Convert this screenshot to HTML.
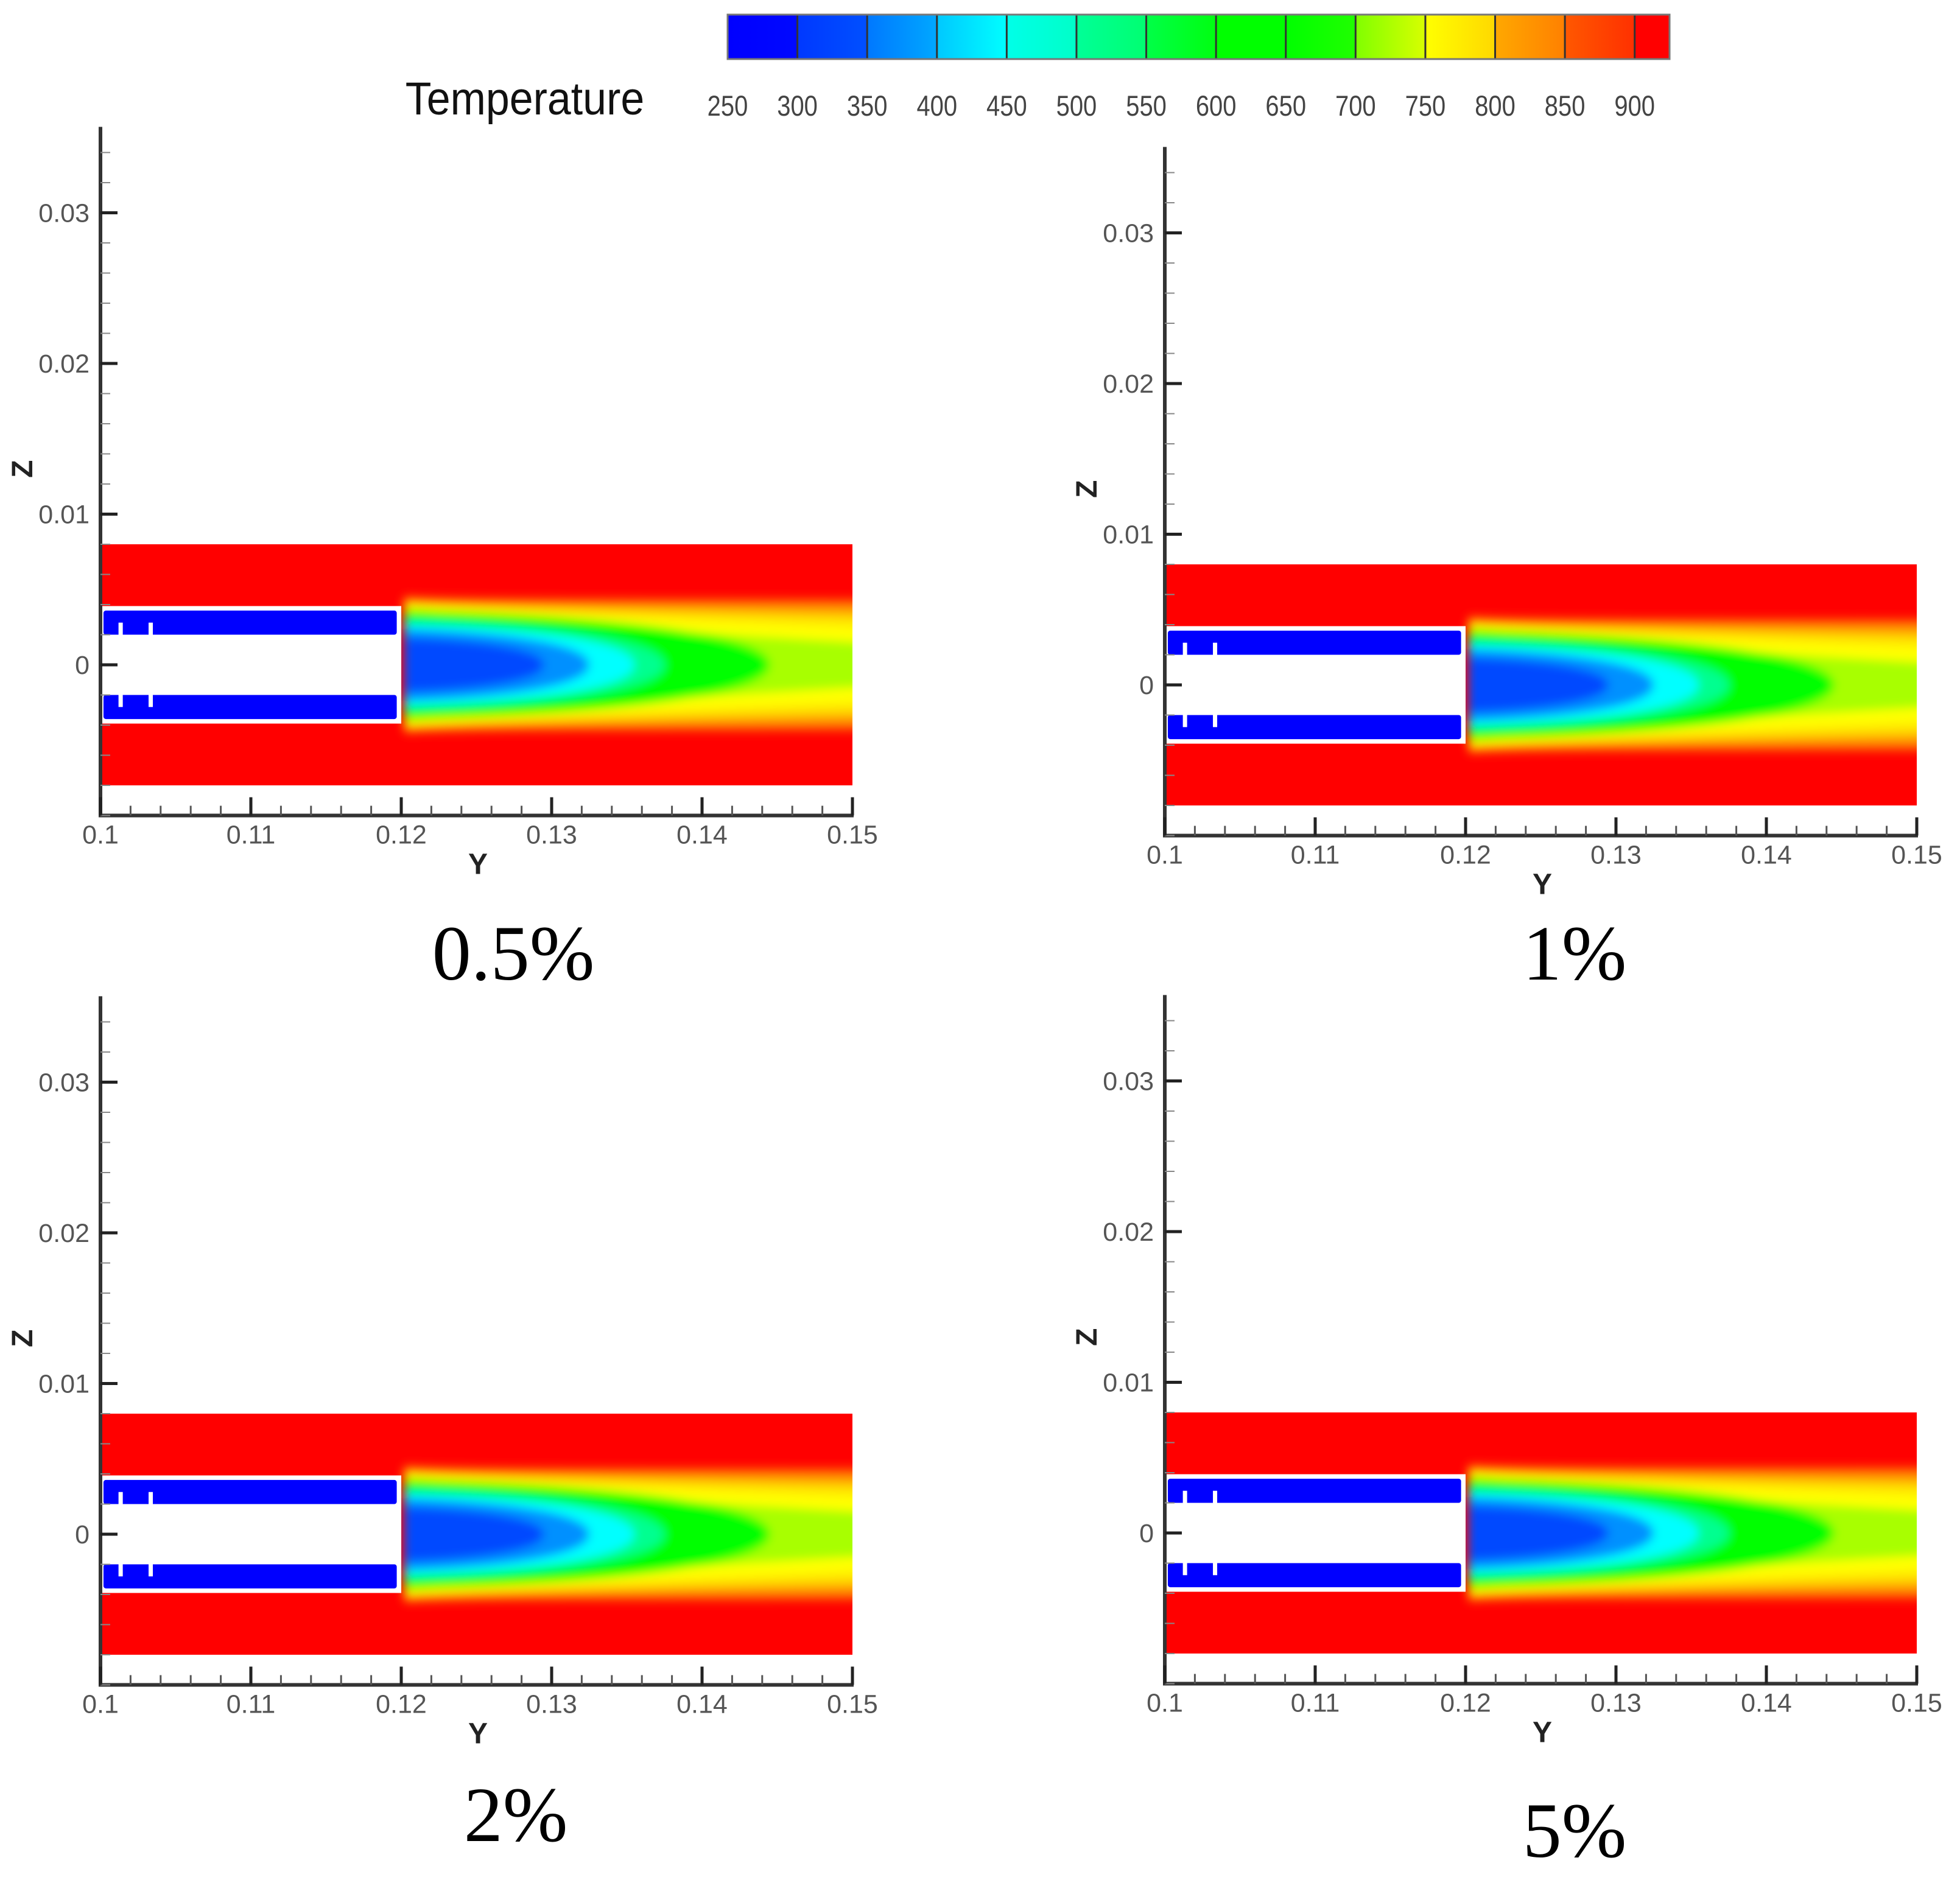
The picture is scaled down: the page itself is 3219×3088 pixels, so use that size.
<!DOCTYPE html>
<html><head><meta charset="utf-8"><style>
html,body{margin:0;padding:0;background:#fff;}
svg{display:block;}
</style></head><body>
<svg id="root" width="3219" height="3088" viewBox="0 0 3219 3088" xmlns="http://www.w3.org/2000/svg">
<defs>
<filter id="blur" x="-5%" y="-20%" width="110%" height="140%"><feGaussianBlur stdDeviation="8"/></filter>
</defs>
<g id="colorbar"></g>
<g id="panels"></g>
</svg>
<script>
const NS='http://www.w3.org/2000/svg';
// colorbar data
const cbLevels=[250,300,350,400,450,500,550,600,650,700,750,800,850,900];
const cbMax=925;
const cbColorsA=['#0000ff','#0038ff','#0078ff','#00c8ff','#00ffe8','#00ff98','#00ff48','#00ff00','#00ff00','#80ff00','#ffff00','#ffa800','#ff5800','#ff0000'];
const cbColorsB=['#0008ff','#0050ff','#00a8ff','#00ffff','#00ffc8','#00ff70','#00ff10','#00ff00','#20ff00','#d8ff00','#ffd800','#ff8000','#ff3000','#ff0000'];
// panel data
const panelLabels=['0.5%','1%','2%','5%'];
const yTicks=[0.1,0.11,0.12,0.13,0.14,0.15];
const zTicks=[0,0.01,0.02,0.03];
// contour layers
const layerColors=['#ff5000','#ff9800','#ffe000','#ffff00','#a8ff00','#00ff00','#00ff90','#00ffff','#0090ff','#0048ff'];
const layerHalfStart=[0.0046,0.0043,0.0041,0.0039,0.0037,0.0036,0.0029,0.0027,0.0024,0.0018];
const layerHalfEnd=[0.0044,0.0039,0.0032,0.0024,0.0012,0,0,0,0,0];
const layerTip=[0.16,0.16,0.16,0.16,0.16,0.1445,0.1375,0.1355,0.1325,0.1295];

function el(tag,attrs,parent){const e=document.createElementNS(NS,tag);for(const k in attrs)e.setAttribute(k,attrs[k]);(parent||document.getElementById('root')).appendChild(e);return e;}

const cb=document.getElementById('colorbar');
const cbX0=1195,cbX1=2742,cbY=24,cbH=73;
const cbx=v=>cbX0+(v-cbLevels[0])/(cbMax-cbLevels[0])*(cbX1-cbX0);
const defs=document.querySelector('defs');
cbLevels.forEach((lv,i)=>{
  const hi=i<cbLevels.length-1?cbLevels[i+1]:cbMax;
  const g=el('linearGradient',{id:'cg'+i,x1:'0',x2:'1',y1:'0',y2:'0'},defs);
  el('stop',{offset:'0','stop-color':cbColorsA[i]},g);el('stop',{offset:'1','stop-color':cbColorsB[i]},g);
  const r=el('rect',{x:cbx(lv),y:cbY,width:cbx(hi)-cbx(lv)+0.5,height:cbH,fill:'url(#cg'+i+')'},cb);
  
  
  if(i>0){const l=el('line',{x1:cbx(lv),x2:cbx(lv),y1:cbY,y2:cbY+cbH,stroke:'#333','stroke-width':3},cb);
    }
  const t=el('text',{x:cbx(lv),y:190,'font-family':'Liberation Sans, sans-serif','font-size':47,fill:'#444','text-anchor':'middle',transform:'translate('+cbx(lv)+',0) scale(0.85,1) translate('+(-cbx(lv))+',0)'},cb);
  t.textContent=lv;
  
});
const cbo=el('rect',{x:cbX0,y:cbY,width:cbX1-cbX0,height:cbH,fill:'none',stroke:'#777','stroke-width':3},cb);

const tt=el('text',{x:862,y:188,'font-family':'Liberation Sans, sans-serif','font-size':76,fill:'#111','text-anchor':'middle',transform:'translate(862,0) scale(0.92,1) translate(-862,0)'},cb);
tt.textContent='Temperature';


const panelOX=[165,1913,165,1913];
const panelZ0=[1092,1125,2520,2518];
const labelX=[843,2586,847,2586];
const labelY=[1609,1609,3024,3050];
const SX=24700, SZ=24750, ZTOP=0.0357, ZBOT=-0.01;

panelLabels.forEach((lab,p)=>{
  const g=el('g',{},document.getElementById('panels'));
  
  
  const ox=panelOX[p], z0=panelZ0[p];
  const X=y=>ox+(y-0.1)*SX, Z=z=>z0-z*SZ;
  const cid='clip'+p;
  const cp=el('clipPath',{id:cid},defs);
  el('rect',{x:X(0.1),y:Z(0.008),width:X(0.15)-X(0.1),height:Z(-0.008)-Z(0.008)},cp);
  const field=el('g',{'clip-path':'url(#'+cid+')'},g);
  
  el('rect',{x:X(0.1),y:Z(0.008),width:X(0.15)-X(0.1),height:Z(-0.008)-Z(0.008),fill:'#ff0000'},field);
  const lg=el('g',{filter:'url(#blur)'},field);
  layerColors.forEach((c,i)=>{
    const hs=layerHalfStart[i], tip=layerTip[i];
    let d;
    if(tip>0.15){
      const he=layerHalfEnd[i];
      d=`M${X(0.1202)},${Z(hs)} C${X(0.124)},${Z(hs*0.95)} ${X(0.135)},${Z((hs*0.4+he*0.6))} ${X(0.156)},${Z(he)} L${X(0.156)},${Z(-he)} C${X(0.135)},${Z(-(hs*0.4+he*0.6))} ${X(0.124)},${Z(-hs*0.95)} ${X(0.1202)},${Z(-hs)} Z`;
    } else {
      const L=tip-0.12;
      d=`M${X(0.1202)},${Z(hs)} C${X(0.12+0.5*L)},${Z(hs*0.92)} ${X(tip)},${Z(hs*0.62)} ${X(tip)},${Z(0)} C${X(tip)},${Z(-hs*0.62)} ${X(0.12+0.5*L)},${Z(-hs*0.92)} ${X(0.1202)},${Z(-hs)} Z`;
    }
    const path=el('path',{d:d,fill:c},lg);
    
  });
  const wr=el('rect',{x:X(0.1),y:Z(0.0039),width:X(0.12)-X(0.1),height:Z(-0.0039)-Z(0.0039),fill:'#fff'},field);
  
  [1,-1].forEach(s=>{
    const b=el('rect',{x:X(0.1002),y:Z(s>0?0.0036:-0.002),width:X(0.1197)-X(0.1002),height:SZ*0.0016,fill:'#0000ff',rx:4},field);
    
    [0.1012,0.1032].forEach(yy=>{
      const n=el('rect',{x:X(yy),y:s>0?Z(0.0028):Z(-0.002),width:7,height:SZ*0.0008,fill:'#fff'},field);
      
    });
  });
  const ax=el('g',{stroke:'#333'},g);
  
  el('line',{x1:X(0.1),x2:X(0.1),y1:Z(ZTOP),y2:Z(ZBOT)+2,'stroke-width':6},ax);
  el('line',{x1:X(0.1)-3,x2:X(0.15)+2,y1:Z(ZBOT),y2:Z(ZBOT),'stroke-width':6},ax);
  for(let k=-5;k<=17;k++){const z=k*0.002;if(z>ZTOP)break;
    el('line',{x1:X(0.1),x2:X(0.1)+16,y1:Z(z),y2:Z(z),'stroke-width':2,stroke:'#888'},ax);}
  for(let k=0;k<=25;k++){const y=0.1+k*0.002;
    el('line',{x1:X(y),x2:X(y),y1:Z(ZBOT),y2:Z(ZBOT)-16,'stroke-width':3,stroke:'#555'},ax);}
  zTicks.forEach(z=>{
    el('line',{x1:X(0.1),x2:X(0.1)+28,y1:Z(z),y2:Z(z),'stroke-width':5,stroke:'#222'},ax);
    const t=el('text',{x:X(0.1)-18,y:Z(z)+15,'font-family':'Liberation Sans, sans-serif','font-size':43,fill:'#555','text-anchor':'end',stroke:'none'},g);
    t.textContent=z===0?'0':z.toFixed(2);
    
  });
  yTicks.forEach(y=>{
    el('line',{x1:X(y),x2:X(y),y1:Z(ZBOT),y2:Z(ZBOT)-30,'stroke-width':5,stroke:'#222'},ax);
    const t=el('text',{x:X(y),y:Z(ZBOT)+46,'font-family':'Liberation Sans, sans-serif','font-size':43,fill:'#555','text-anchor':'middle',stroke:'none'},g);
    t.textContent=(Math.round(y*100)/100).toString();
    
  });
  const yl=el('text',{x:X(0.1251),y:Z(ZBOT)+96,'font-family':'Liberation Sans, sans-serif','font-size':48,'font-weight':'bold',fill:'#222','text-anchor':'middle'},g);
  yl.textContent='Y';
  const zx=ox-112, zy=Z(0.013);
  const zl=el('text',{x:zx,y:zy,'font-family':'Liberation Sans, sans-serif','font-size':48,'font-weight':'bold',fill:'#222','text-anchor':'middle',transform:`rotate(-90 ${zx} ${zy})`},g);
  zl.textContent='Z';
  const pl=el('text',{x:labelX[p],y:labelY[p],'font-family':'Liberation Serif, serif','font-size':128,fill:'#000','text-anchor':'middle'},g);
  pl.textContent=lab;
});
</script>
</body></html>
